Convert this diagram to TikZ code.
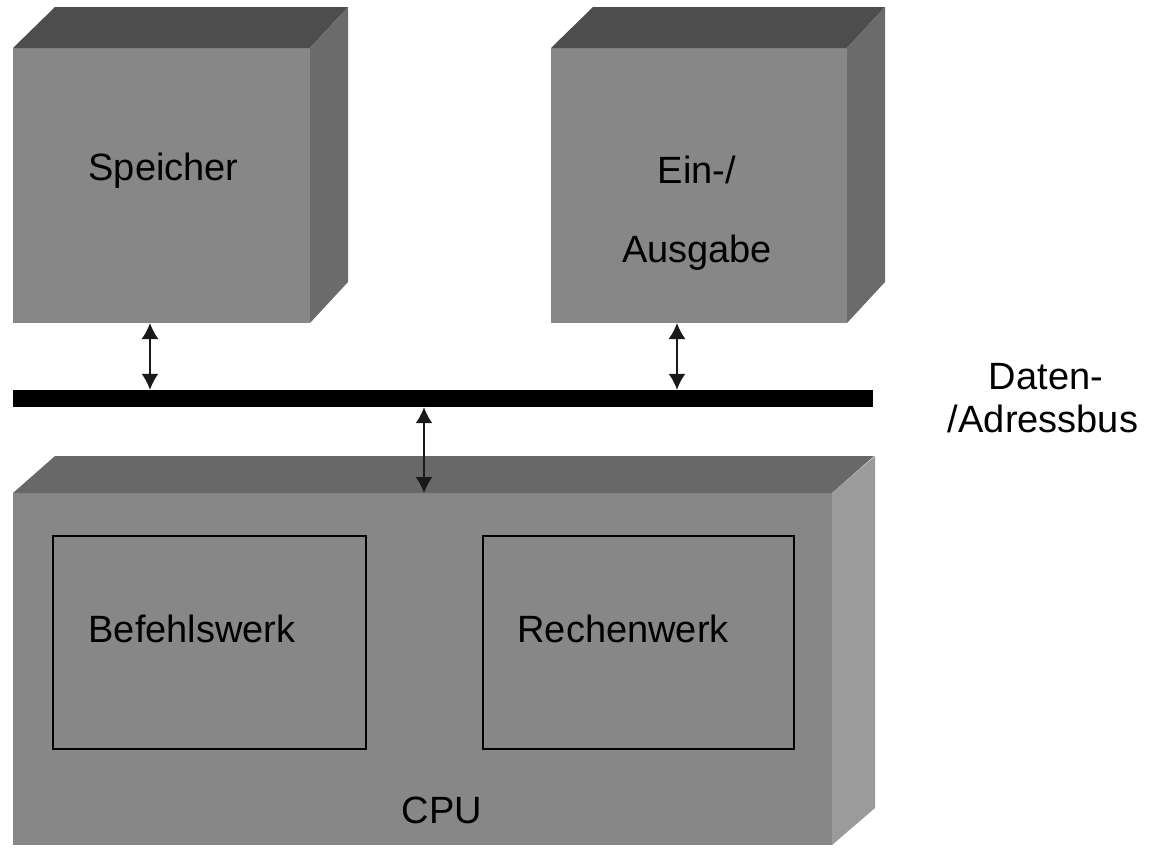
\documentclass[tikz,border=0pt]{standalone}
\usepackage{fontspec}
\setmainfont{Liberation Sans}
\usepackage{tikz}
\usetikzlibrary{arrows.meta}
\definecolor{frontgray}{HTML}{878787}
\definecolor{topdark}{HTML}{4D4D4D}
\definecolor{sidedark}{HTML}{6B6B6B}
\definecolor{cputop}{HTML}{686868}
\definecolor{cpuside}{HTML}{9B9B9B}

\begin{document}
\begin{tikzpicture}[x=1pt,y=-1pt,
    face/.style={fill=frontgray, inner sep=0pt, outer sep=0pt},
    lbl/.style={anchor=base, font=\fontsize{38}{44}\selectfont, text=black},
    unit/.style={draw=black, line width=2pt, inner sep=0pt},
    busarrow/.style={{Latex[length=16pt,width=17pt]}-{Latex[length=16pt,width=17pt]}, line width=1.8pt, draw=black!90}]
      \useasboundingbox (0,0) rectangle (1151,847);

      % Speicher
      \node (Sp) at (161.5,185.5) [face, minimum width=297pt, minimum height=275pt] {};
      \fill[topdark] (Sp.north west) -- ++(42,-41) -- ++(293,0) -- (Sp.north east) -- cycle;
      \fill[sidedark] (Sp.north east) -- ++(38,-41) -- ++(0,275) -- (Sp.south east) -- cycle;
      \node (SpT) at (85,180) [lbl, anchor=base west] {Speicher};

      % Ein-/Ausgabe
      \node (EA) at (699,185.5) [face, minimum width=296pt, minimum height=275pt] {};
      \fill[topdark] (EA.north west) -- ++(42,-41) -- ++(292,0) -- (EA.north east) -- cycle;
      \fill[sidedark] (EA.north east) -- ++(38,-41) -- ++(0,275) -- (EA.south east) -- cycle;
      \node (EAT1) at (697,183) [lbl] {Ein-/};
      \node (EAT2) at (697,262) [lbl] {Ausgabe};

      % Bus
      \node (bus) at (443,398.5) [fill=black, inner sep=0pt, minimum width=860pt, minimum height=17pt] {};
      \node (busT1) at (1046,389) [lbl] {Daten-};
      \node (busT2) at (1043,432) [lbl] {/Adressbus};

      % CPU
      \node (cpu) at (422.5,669) [face, minimum width=819pt, minimum height=352pt] {};
      \fill[cputop] (cpu.north west) -- ++(42,-37) -- ++(819,0) -- (cpu.north east) -- cycle;
      \fill[cpuside] (cpu.north east) -- ++(43,-37) -- ++(0,352) -- (cpu.south east) -- cycle;
      \node (bw) at (209,642) [unit, minimum width=313pt, minimum height=213pt] {};
      \node (bwT) at (85,642) [lbl, anchor=base west] {Befehlswerk};
      \node (rw) at (638.5,642) [unit, minimum width=311pt, minimum height=213pt] {};
      \node (rwT) at (514,642) [lbl, anchor=base west] {Rechenwerk};
      \node (cpuT) at (442,823) [lbl] {CPU};

      \coordinate (a1) at (150,0);
      \coordinate (a2) at (677,0);
      \coordinate (a3) at (424,0);
      \draw[busarrow] (Sp.south -| a1) to (bus.north -| a1);
      \draw[busarrow] (EA.south -| a2) to (bus.north -| a2);
      \draw[busarrow] (bus.south -| a3) to (cpu.north -| a3);

    \end{tikzpicture}
\end{document}
